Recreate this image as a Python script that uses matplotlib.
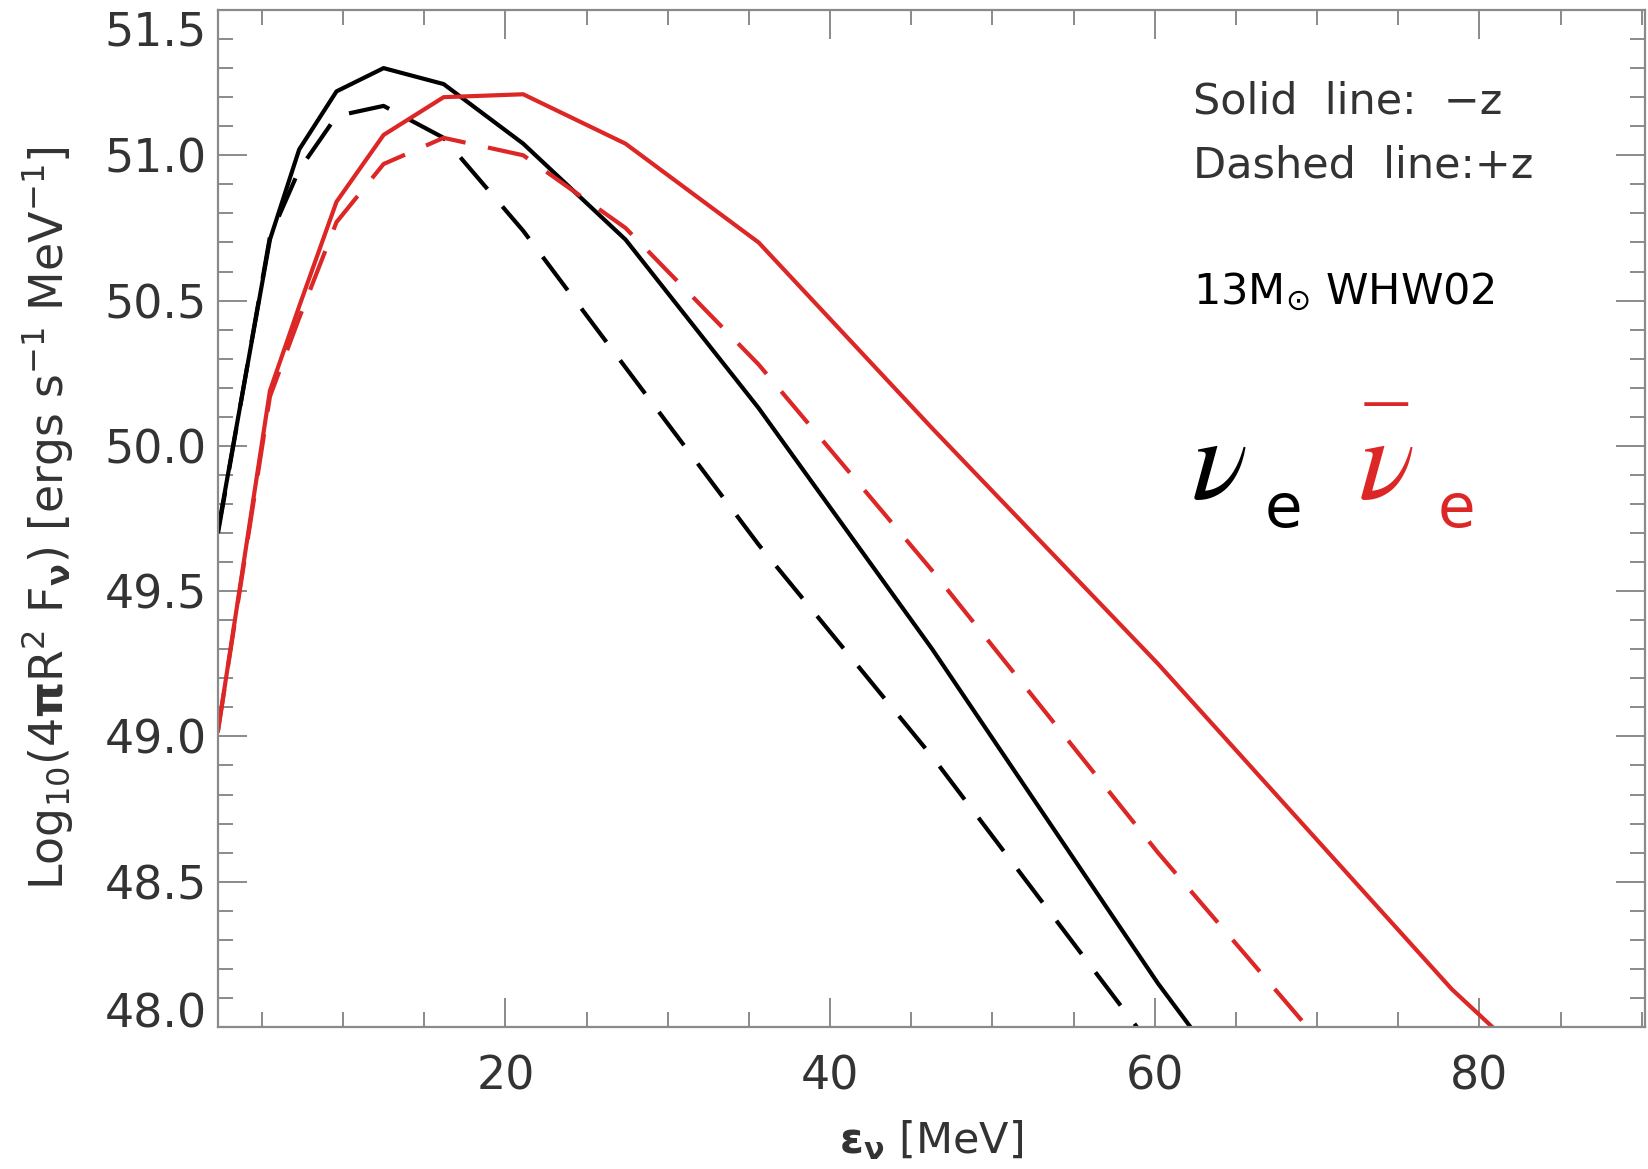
import matplotlib.pyplot as plt
from matplotlib.ticker import MultipleLocator

# energies (MeV) and log10 luminosity spectra
nue_minus_x = [2.3, 5.5, 7.3, 9.6, 12.5, 16.2, 21.1, 27.4, 35.6, 46.3, 60.2, 62.2]
nue_minus_y = [49.71, 50.71, 51.02, 51.22, 51.30, 51.245, 51.04, 50.71, 50.13, 49.30, 48.15, 48.0]

nue_plus_x = [2.3, 5.5, 7.3, 9.6, 12.5, 16.2, 21.1, 27.4, 35.6, 46.3, 58.9]
nue_plus_y = [49.70, 50.72, 50.95, 51.135, 51.17, 51.06, 50.74, 50.27, 49.66, 48.93, 48.0]

nuebar_minus_x = [2.3, 5.5, 7.3, 9.6, 12.5, 16.2, 21.1, 27.4, 35.6, 46.3, 60.2, 78.3, 80.8]
nuebar_minus_y = [49.02, 50.19, 50.48, 50.84, 51.07, 51.20, 51.21, 51.04, 50.70, 50.06, 49.25, 48.13, 48.0]

nuebar_plus_x = [2.3, 5.5, 7.3, 9.6, 12.5, 16.2, 21.1, 27.4, 35.6, 46.3, 60.2, 69.4]
nuebar_plus_y = [49.02, 50.17, 50.44, 50.77, 50.97, 51.06, 51.00, 50.75, 50.28, 49.57, 48.60, 48.0]

y_ticks = [48.0, 48.5, 49.0, 49.5, 50.0, 50.5, 51.0, 51.5]
x_ticks = [20, 40, 60, 80]

red = '#dd2626'
frame = '#8a8a8a'
txt = '#333333'

plt.rcParams['font.family'] = ['DejaVu Sans']
plt.rcParams['mathtext.fontset'] = 'dejavusans'

fig = plt.figure(figsize=(16.48, 11.69), dpi=100)
ax = fig.add_axes([218 / 1648, 1 - 1027 / 1169, (1645 - 218) / 1648, (1027 - 10) / 1169])

lw = 3.0
ax.plot(nue_minus_x, nue_minus_y, color='black', lw=lw)
ax.plot(nue_plus_x, nue_plus_y, color='black', lw=lw, dashes=(10, 5.5))
ax.plot(nuebar_minus_x, nuebar_minus_y, color=red, lw=lw)
ax.plot(nuebar_plus_x, nuebar_plus_y, color=red, lw=lw, dashes=(10, 5.5))

ax.set_xlim(2.3, 90.2)
ax.set_ylim(48.0, 51.5)
ax.set_xticks(x_ticks, [str(v) for v in x_ticks])
ax.set_yticks(y_ticks, ['%.1f' % v for v in y_ticks])
ax.xaxis.set_minor_locator(MultipleLocator(5))
ax.yaxis.set_minor_locator(MultipleLocator(0.1))

for s in ax.spines.values():
    s.set_color(frame)
    s.set_linewidth(1.6)
ax.tick_params(which='both', direction='in', top=True, right=True, colors=frame, width=1.4,
               labelcolor=txt, labelsize=33)
ax.tick_params(which='major', length=21)
ax.tick_params(which='minor', length=11)
ax.tick_params(axis='x', pad=20)
ax.tick_params(axis='y', pad=8)

ylabels = ax.get_yticklabels()
ylabels[-1].set_va('top')
ylabels[0].set_va('baseline')

ax.set_xlabel(r'$\mathbf{\epsilon_\nu}$ [MeV]', fontsize=31, color=txt, va='center')
ax.xaxis.set_label_coords(0.5, -0.111)
ax.set_ylabel(r'Log$_{10}$(4$\mathbf{\pi}$R$^2$ F$_\mathbf{\nu}$) [ergs s$^{-1}$ MeV$^{-1}$]',
              fontsize=33, color=txt, va='center')
ax.yaxis.set_label_coords(-0.12, 0.5)

fx = lambda px: px / 1648
fy = lambda py: 1 - py / 1169
fig.text(fx(1193), fy(102), 'Solid  line:  \u2212z', fontsize=31, color=txt, va='center')
fig.text(fx(1193), fy(165), 'Dashed  line:+z', fontsize=31, color=txt, va='center')
fig.text(fx(1193), fy(292), r'13M$_{\odot}$ WHW02', fontsize=31, color='black', va='center')

plt.rcParams['mathtext.fontset'] = 'stix'
fig.text(fx(1191), fy(466), r'$\nu$', fontsize=84, color='black', va='center')
fig.text(fx(1265), fy(511), 'e', fontsize=44, color='black', va='center')
fig.text(fx(1358), fy(466), r'$\nu$', fontsize=84, color=red, va='center')
fig.text(fx(1362), fy(404), '\u2014', fontsize=35, color=red, va='center')
fig.text(fx(1438), fy(511), 'e', fontsize=44, color=red, va='center')

fig.savefig('out.png', dpi=100)
